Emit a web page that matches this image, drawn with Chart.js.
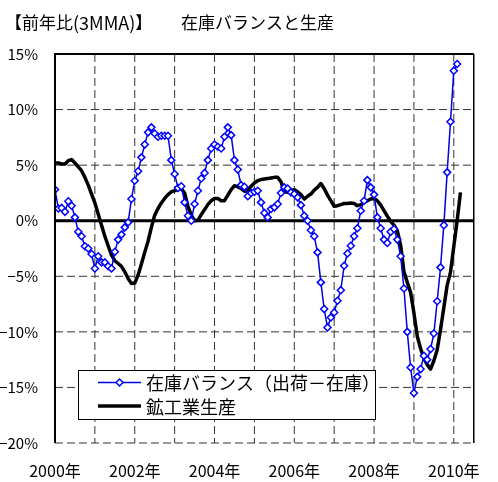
<!DOCTYPE html>
<html>
<head>
<meta charset="utf-8">
<style>
  html, body { margin: 0; padding: 0; background: #fff; }
</style>
<script src="https://cdn.jsdelivr.net/npm/chart.js@4.4.0/dist/chart.umd.min.js"></script>
</head>
<body>
<canvas id="chart" width="498" height="482"></canvas>
<script>
// monthly values, Jan 2000 onwards (前年比 %, 3MMA)
const balanceLabel = '在庫バランス（出荷－在庫）';
const productionLabel = '鉱工業生産';

const balance = [
  2.8, 1.1, 1.15, 0.8, 1.75, 1.35, 0.3, -1.0, -1.4, -2.3, -2.5, -3.0,
  -4.3, -3.2, -3.75, -3.75, -4.1, -4.3, -2.8, -1.7, -1.25, -0.6, -0.15, 1.95,
  3.6, 4.45, 5.7, 6.85, 7.95, 8.4, 7.85, 7.55, 7.65, 7.65, 7.65, 5.45,
  4.2, 2.95, 3.1, 1.65, 0.45, 0.0, 1.5, 2.7, 3.8, 4.3, 5.45, 6.5,
  6.85, 6.65, 6.5, 7.55, 8.4, 7.7, 5.45, 4.6, 3.2, 3.05, 2.2, 2.5,
  2.6, 2.7, 1.65, 0.7, 0.3, 1.05, 1.2, 1.5, 2.5, 3.0, 2.9, 2.55,
  2.4, 2.1, 1.4, 0.45, 0.0, -0.85, -1.4, -2.85, -5.55, -7.95, -9.6, -8.7,
  -8.25, -7.2, -6.25, -4.05, -2.95, -2.25, -1.4, -0.68, 0.9, 1.8, 3.65, 3.0,
  2.35, 0.3, -0.68, -1.7, -2.0, -1.0, -0.75, -1.7, -3.2, -6.1, -10.0, -13.2,
  -15.5, -14.05, -13.35, -12.15, -12.5, -11.55, -10.15, -7.25, -4.2, -0.4, 4.35, 8.9,
  13.5, 14.1
];

const production = [
  5.2, 5.2, 5.1, 5.1, 5.4, 5.5, 5.2, 4.85, 4.5, 3.9, 3.2, 2.4,
  1.6, 0.6, -0.4, -1.4, -2.25, -3.1, -3.6, -3.85, -4.1, -4.6, -5.2, -5.65,
  -5.6, -4.9, -3.9, -2.85, -1.85, -0.6, 0.5, 1.1, 1.6, 2.0, 2.35, 2.6,
  2.7, 2.8, 2.9, 2.5, 1.3, 0.5, 0.0, 0.05, 0.55, 1.0, 1.45, 1.8,
  2.0, 2.0, 1.8, 1.8, 2.3, 2.8, 3.15, 3.05, 2.9, 2.65, 2.7, 3.1,
  3.4, 3.6, 3.7, 3.75, 3.8, 3.85, 3.9, 3.9, 3.5, 2.6, 2.55, 2.7,
  2.8, 2.6, 2.35, 1.95, 2.2, 2.4, 2.75, 3.0, 3.35, 2.9, 2.3, 1.8,
  1.3, 1.35, 1.45, 1.55, 1.55, 1.6, 1.55, 1.35, 1.45, 1.65, 1.8, 1.95,
  2.0, 1.8, 1.4, 0.9, 0.4, -0.05, -0.4, -0.9, -2.2, -4.6, -5.55, -6.45,
  -8.3, -10.4, -11.5, -12.4, -12.95, -13.35, -12.6, -11.6, -9.8, -7.8, -5.8, -4.65,
  -2.3, 0.0, 2.55
];

const yearLabels = ['2000年', '2002年', '2004年', '2006年', '2008年', '2010年'];
const yearTicks = [12, 24, 36, 48, 60, 72, 84, 96, 108, 120];   // month index of each January
const pctTicks = [-20, -15, -10, -5, 5, 10, 15];
const monthsShown = 126;   // axis runs Jan 2000 .. Jul 2010
const yMin = -20, yMax = 15;

const FONT = '"Noto Sans CJK JP", "Noto Sans", sans-serif';

function toPoints(arr) {
  return arr.map((v, i) => ({ x: i, y: v }));
}

// guide lines (grid, zero line, frame) drawn as line datasets on the same scales
function guide(points, color, width, dash, order) {
  return {
    guide: true,
    data: points,
    borderColor: color,
    borderWidth: width,
    borderDash: dash,
    pointRadius: 0,
    fill: false,
    tension: 0,
    clip: false,
    order: order
  };
}
const guides = [];
pctTicks.forEach(v => guides.push(guide([{ x: 0, y: v }, { x: monthsShown, y: v }], '#333', 1, [8, 4], 20)));
yearTicks.forEach(m => guides.push(guide([{ x: m, y: yMax }, { x: m, y: yMin }], '#333', 1, [8, 4], 20)));
guides.push(guide([{ x: 0, y: 0 }, { x: monthsShown, y: 0 }], '#000', 3, [], 10));
guides.push(guide([{ x: 0, y: yMin }, { x: 0, y: yMax }, { x: monthsShown, y: yMax }], '#000', 2, [], 0));
guides.push(guide([{ x: monthsShown, y: yMax }, { x: monthsShown, y: yMin }], '#000', 1.5, [], 0));

// title and the boxed legend
const decorations = {
  id: 'decorations',
  afterDraw(chart) {
    const { ctx, chartArea: a } = chart;
    ctx.save();
    ctx.fillStyle = '#000';
    ctx.textBaseline = 'middle';
    ctx.textAlign = 'left';
    ctx.font = '17px ' + FONT;
    ctx.fillText('【前年比', 5, 23);
    const w = ctx.measureText('【前年比').width;
    ctx.font = '18px ' + FONT;
    ctx.fillText('(3MMA)', 5 + w, 23);
    const w2 = ctx.measureText('(3MMA)').width;
    ctx.font = '17px ' + FONT;
    ctx.fillText('】', 5 + w + w2, 23);
    ctx.fillText('在庫バランスと生産', 181, 23);

    const bx = Math.round(a.left) + 23, by = Math.round(a.bottom) - 73, bw = 297, bh = 49;
    ctx.fillStyle = '#fff';
    ctx.fillRect(bx, by, bw, bh);
    ctx.strokeStyle = '#000';
    ctx.lineWidth = 1;
    ctx.strokeRect(bx + 0.5, by + 0.5, bw, bh);

    const ds = chart.data.datasets.filter(d => !d.guide);
    const rows = [by + 12.5, by + 36];
    ds.forEach((d, i) => {
      const ly = rows[i];
      ctx.strokeStyle = d.borderColor;
      ctx.lineWidth = d.borderWidth;
      ctx.beginPath();
      ctx.moveTo(bx + 20, ly);
      ctx.lineTo(bx + 63, ly);
      ctx.stroke();
      if (d.pointRadius > 0) {
        const cx = bx + 41.5, rr = d.pointRadius;
        ctx.fillStyle = d.pointBackgroundColor;
        ctx.strokeStyle = d.pointBorderColor;
        ctx.lineWidth = d.pointBorderWidth;
        ctx.beginPath();
        ctx.moveTo(cx, ly - rr);
        ctx.lineTo(cx + rr, ly);
        ctx.lineTo(cx, ly + rr);
        ctx.lineTo(cx - rr, ly);
        ctx.closePath();
        ctx.fill();
        ctx.stroke();
      }
      ctx.fillStyle = '#000';
      ctx.font = '18px ' + FONT;
      ctx.fillText(d.label, bx + 68, ly + 1);
    });
    ctx.restore();
  }
};

new Chart(document.getElementById('chart'), {
  type: 'line',
  data: {
    datasets: [
      {
        label: balanceLabel,
        data: toPoints(balance),
        borderColor: '#0000e0',
        borderWidth: 1.5,
        pointStyle: 'rectRot',
        pointRadius: 3.5,
        pointBorderWidth: 1.5,
        pointBorderColor: '#0000ff',
        pointBackgroundColor: '#ffffff',
        tension: 0,
        order: 1
      },
      {
        label: productionLabel,
        data: toPoints(production),
        borderColor: '#000000',
        borderWidth: 3.5,
        pointRadius: 0,
        borderJoinStyle: 'round',
        tension: 0,
        order: 2
      }
    ].concat(guides)
  },
  options: {
    responsive: false,
    animation: false,
    devicePixelRatio: 1,
    layout: { padding: { top: 54, right: 9, left: 0, bottom: 0 } },
    plugins: {
      legend: { display: false },
      title: { display: false },
      tooltip: { enabled: false }
    },
    scales: {
      x: {
        type: 'linear',
        min: 0,
        max: monthsShown,
        afterFit(s) { s.height = 39; },
        border: { display: false },
        grid: { display: false, drawTicks: false },
        ticks: {
          stepSize: 12,
          includeBounds: false,
          autoSkip: false,
          maxRotation: 0,
          padding: 18,
          color: '#000',
          font: { family: FONT, size: 16 },
          callback: v => (v % 24 === 0 ? yearLabels[v / 24] : '')
        }
      },
      y: {
        min: yMin,
        max: yMax,
        afterFit(s) { s.width = 55; },
        border: { display: false },
        grid: { display: false, drawTicks: true, tickLength: 4 },
        ticks: {
          stepSize: 5,
          padding: 13,
          color: '#000',
          font: { family: FONT, size: 15 },
          callback: v => (v < 0 ? '−' + Math.abs(v) : v) + '%'
        }
      }
    }
  },
  plugins: [decorations]
});
</script>
</body>
</html>
